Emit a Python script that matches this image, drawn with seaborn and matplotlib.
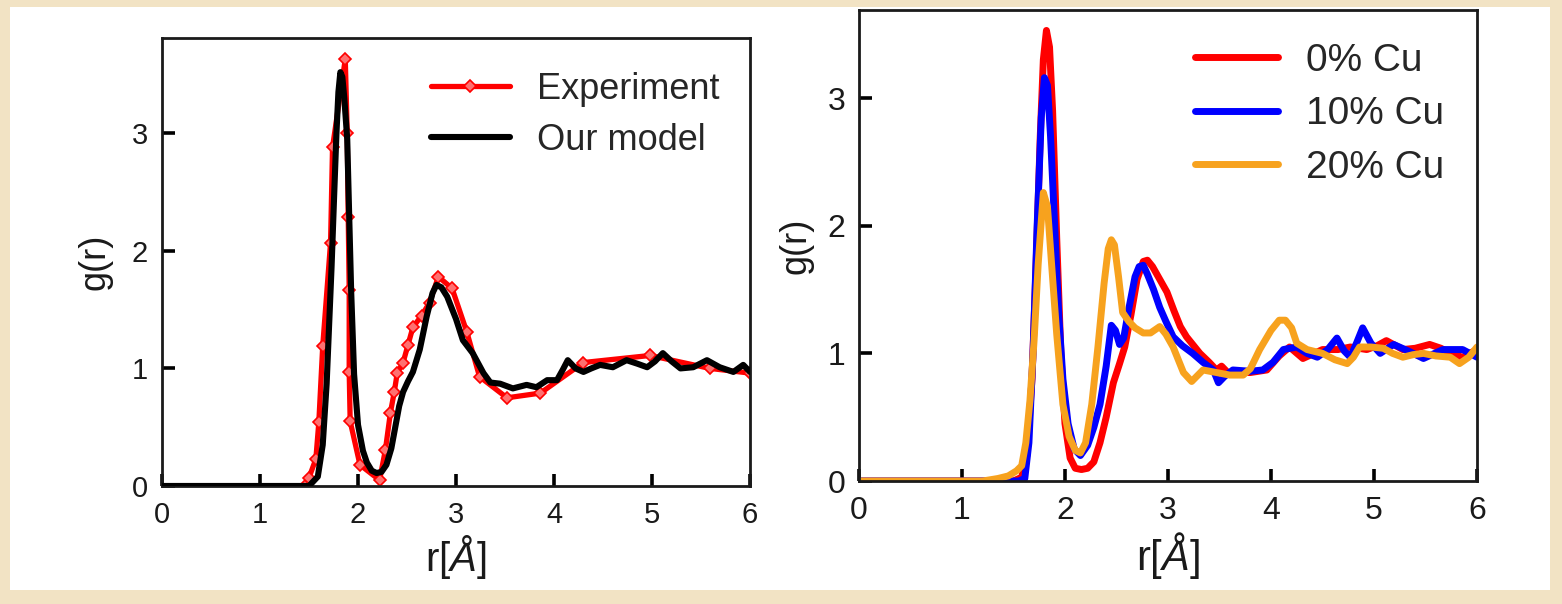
import matplotlib
matplotlib.use('Agg')
import matplotlib.pyplot as plt
from matplotlib.patches import Rectangle
import seaborn as sns

# left panel: experiment vs model
exp_r = [1.46, 1.50, 1.57, 1.60, 1.64, 1.72, 1.74, 1.87, 1.89, 1.90, 1.91, 1.91, 1.92, 2.02, 2.22,
         2.28, 2.33, 2.37, 2.40, 2.46, 2.51, 2.56, 2.65, 2.73, 2.82, 2.96, 3.11, 3.24, 3.52, 3.86,
         4.30, 4.98, 5.59, 6.00]
exp_g = [0.00, 0.07, 0.23, 0.54, 1.19, 2.07, 2.88, 3.63, 3.00, 2.29, 1.67, 0.97, 0.55, 0.18, 0.05,
         0.31, 0.62, 0.80, 0.96, 1.05, 1.20, 1.35, 1.45, 1.56, 1.78, 1.68, 1.31, 0.93, 0.75, 0.79,
         1.05, 1.11, 1.00, 0.96]

mod_r = [0.0, 1.50, 1.59, 1.64, 1.68, 1.73, 1.76, 1.78, 1.80, 1.82, 1.84, 1.86, 1.89, 1.91, 1.93,
         1.96, 2.00, 2.05, 2.09, 2.14, 2.19, 2.24, 2.29, 2.34, 2.38, 2.42, 2.46, 2.51, 2.56, 2.63,
         2.70, 2.76, 2.80, 2.85, 2.91, 3.00, 3.07, 3.17, 3.28, 3.35, 3.45, 3.58, 3.72, 3.82, 3.93,
         4.03, 4.09, 4.14, 4.22, 4.30, 4.38, 4.47, 4.60, 4.74, 4.85, 4.95, 5.03, 5.11, 5.20, 5.29,
         5.42, 5.56, 5.69, 5.83, 5.93, 6.00]
mod_g = [0.0, 0.0, 0.08, 0.35, 0.87, 1.86, 2.55, 3.00, 3.35, 3.52, 3.48, 3.30, 2.95, 2.30, 1.66,
         0.95, 0.52, 0.30, 0.20, 0.13, 0.11, 0.12, 0.18, 0.32, 0.50, 0.68, 0.80, 0.89, 0.97, 1.16,
         1.44, 1.64, 1.71, 1.69, 1.61, 1.42, 1.24, 1.13, 0.96, 0.88, 0.87, 0.83, 0.86, 0.84, 0.90,
         0.90, 0.99, 1.07, 1.00, 0.97, 1.00, 1.03, 1.01, 1.07, 1.04, 1.01, 1.06, 1.13, 1.06, 1.00,
         1.01, 1.07, 1.01, 0.97, 1.03, 0.97]

# right panel: Cu content
r0 = [0.0, 1.50, 1.58, 1.63, 1.68, 1.72, 1.76, 1.79, 1.82, 1.85, 1.88, 1.92, 1.96, 2.00, 2.05,
      2.10, 2.16, 2.22, 2.28, 2.34, 2.40, 2.47, 2.53, 2.58, 2.64, 2.70, 2.76, 2.80, 2.85, 2.92,
      2.99, 3.06, 3.12, 3.18, 3.24, 3.31, 3.40, 3.47, 3.52, 3.58, 3.70, 3.80, 3.96, 4.08, 4.18,
      4.31, 4.50, 4.65, 4.77, 4.93, 5.03, 5.12, 5.28, 5.40, 5.54, 5.65, 5.74, 5.86, 6.00]
g0 = [0.0, 0.0, 0.03, 0.20, 0.80, 1.70, 2.70, 3.30, 3.53, 3.40, 2.90, 1.90, 1.00, 0.45, 0.18,
      0.10, 0.09, 0.10, 0.15, 0.30, 0.50, 0.77, 0.92, 1.05, 1.30, 1.58, 1.72, 1.73, 1.68, 1.58,
      1.48, 1.33, 1.21, 1.13, 1.07, 1.00, 0.93, 0.87, 0.90, 0.85, 0.85, 0.85, 0.87, 0.98, 1.05,
      0.96, 1.03, 1.03, 1.05, 1.03, 1.06, 1.10, 1.03, 1.04, 1.07, 1.04, 1.00, 0.97, 1.03]

r10 = [0.0, 1.55, 1.61, 1.65, 1.69, 1.73, 1.77, 1.80, 1.83, 1.86, 1.90, 1.94, 1.98, 2.03, 2.09,
       2.15, 2.22, 2.28, 2.34, 2.40, 2.45, 2.49, 2.53, 2.57, 2.62, 2.68, 2.72, 2.76, 2.80, 2.86,
       2.92, 2.98, 3.05, 3.14, 3.24, 3.34, 3.44, 3.49, 3.55, 3.63, 3.80, 3.92, 4.02, 4.12, 4.25,
       4.35, 4.45, 4.55, 4.64, 4.71, 4.77, 4.83, 4.89, 4.97, 5.06, 5.19, 5.33, 5.48, 5.67, 5.86, 6.00]
g10 = [0.0, 0.0, 0.02, 0.30, 1.00, 2.00, 2.85, 3.16, 3.10, 2.70, 2.00, 1.30, 0.80, 0.45, 0.25,
       0.20, 0.28, 0.42, 0.60, 0.90, 1.22, 1.18, 1.07, 1.12, 1.35, 1.60, 1.68, 1.69, 1.62, 1.50,
       1.36, 1.25, 1.13, 1.06, 1.00, 0.93, 0.87, 0.77, 0.82, 0.87, 0.86, 0.87, 0.93, 1.03, 1.05,
       1.00, 0.97, 1.03, 1.12, 1.02, 0.97, 1.08, 1.20, 1.08, 1.00, 1.07, 1.02, 0.96, 1.03, 1.03, 0.97]

r20 = [0.0, 1.20, 1.35, 1.45, 1.53, 1.58, 1.62, 1.66, 1.70, 1.74, 1.79, 1.83, 1.87, 1.92, 1.98,
       2.04, 2.10, 2.15, 2.20, 2.26, 2.32, 2.38, 2.42, 2.45, 2.48, 2.52, 2.56, 2.62, 2.68, 2.76,
       2.83, 2.92, 2.98, 3.05, 3.10, 3.15, 3.23, 3.34, 3.47, 3.60, 3.73, 3.80, 3.89, 4.00, 4.08,
       4.14, 4.20, 4.25, 4.35, 4.50, 4.62, 4.74, 4.80, 4.86, 4.97, 5.09, 5.18, 5.28, 5.38, 5.48,
       5.60, 5.74, 5.83, 5.92, 6.00]
g20 = [0.0, 0.0, 0.02, 0.04, 0.08, 0.12, 0.30, 0.63, 1.10, 1.70, 2.26, 2.15, 1.70, 1.15, 0.60,
       0.35, 0.24, 0.22, 0.30, 0.60, 1.05, 1.55, 1.82, 1.89, 1.85, 1.60, 1.32, 1.25, 1.20, 1.16,
       1.16, 1.21, 1.15, 1.05, 0.95, 0.85, 0.78, 0.87, 0.85, 0.83, 0.83, 0.88, 1.03, 1.18, 1.26,
       1.26, 1.20, 1.08, 1.03, 1.00, 0.95, 0.92, 0.97, 1.05, 1.05, 1.04, 1.00, 0.97, 0.99, 1.00,
       0.98, 0.97, 0.92, 0.97, 1.05]

cu_series = [(r0, g0, '0% Cu', '#ff0000'),
             (r10, g10, '10% Cu', '#0000ff'),
             (r20, g20, '20% Cu', '#f7a21e')]

sns.set_theme(style='ticks')
plt.rcParams['font.family'] = ['Liberation Sans', 'DejaVu Sans']
plt.rcParams['mathtext.fontset'] = 'custom'
plt.rcParams['mathtext.rm'] = 'Liberation Sans'
plt.rcParams['mathtext.it'] = 'Liberation Sans:italic'

fig = plt.figure(figsize=(15.62, 6.04), dpi=100, facecolor='#f2e3c4')
# white page inside the beige border
fig.patches.append(Rectangle((0.0064, 0.023), 0.986, 0.965, transform=fig.transFigure,
                             facecolor='white', edgecolor='none', zorder=-10))

ax1 = fig.add_axes([0.1037, 0.1954, 0.3765, 0.7416])
ax2 = fig.add_axes([0.5499, 0.2036, 0.3957, 0.7798])

line_kw = dict(sort=False, estimator=None, solid_joinstyle='round', solid_capstyle='round')

sns.lineplot(x=exp_r, y=exp_g, ax=ax1, color='#ff0000', lw=3.8, marker='D', markersize=6.5,
             markerfacecolor='#ff7070', markeredgecolor='#ff0000', markeredgewidth=1.2,
             label='Experiment', zorder=2, **line_kw)
sns.lineplot(x=mod_r, y=mod_g, ax=ax1, color='black', lw=4.4, label='Our model', zorder=3,
             **line_kw)

for r, g, lab, col in cu_series:
    sns.lineplot(x=r, y=g, ax=ax2, color=col, lw=5.0, label=lab, **line_kw)

for ax, ylim, fs, lfs in [(ax1, 3.81, 21, 29), (ax2, 3.69, 23, 30)]:
    ax.set_facecolor('white')
    ax.set_xlim(0, 6)
    ax.set_ylim(0, ylim)
    ax.set_xticks(range(7))
    ax.set_yticks(range(4))
    for s in ax.spines.values():
        s.set_linewidth(2)
        s.set_color('#1a1a1a')
    ax.tick_params(direction='in', length=9, width=2.6, color='black', labelsize=fs,
                   labelcolor='#1a1a1a')
    ax.tick_params(axis='x', pad=11)
    ax.tick_params(axis='y', pad=10)
    ax.set_xlabel(r'r[$\mathit{Å}$]', fontsize=lfs, color='#1a1a1a', labelpad=3)

ax1.set_ylabel('g(r)', fontsize=26, color='#1a1a1a', labelpad=14)
ax2.set_ylabel('g(r)', fontsize=26, color='#1a1a1a', labelpad=10)

ax1.legend(loc='upper left', bbox_to_anchor=(0.457, 0.925), frameon=False, fontsize=26,
           handlelength=2.2, handletextpad=0.75, labelspacing=0.45, borderpad=0, borderaxespad=0)
ax2.legend(loc='upper left', bbox_to_anchor=(0.543, 0.93), frameon=False, fontsize=28,
           handlelength=2.15, handletextpad=0.72, labelspacing=0.45, borderpad=0, borderaxespad=0)

fig.savefig('out.png', dpi=100, facecolor=fig.get_facecolor())
